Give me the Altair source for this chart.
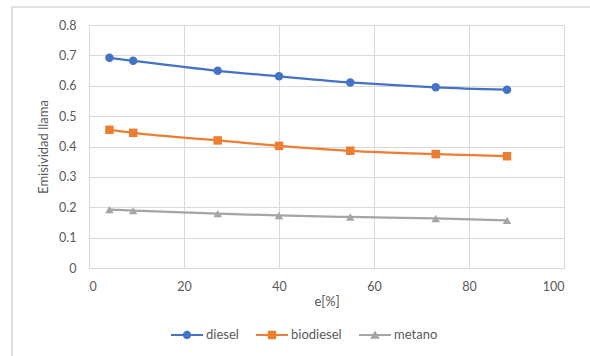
import altair as alt
import pandas as pd

# Flame emissivity versus e[%] for three fuels
e_pct = [4.3, 9.3, 27.1, 40.0, 55.0, 73.0, 88.0]
diesel = [0.692, 0.682, 0.649, 0.631, 0.611, 0.595, 0.587]
biodiesel = [0.455, 0.445, 0.420, 0.402, 0.386, 0.375, 0.368]
metano = [0.192, 0.189, 0.179, 0.173, 0.168, 0.163, 0.157]

series_names = ["diesel", "biodiesel", "metano"]
series_colors = ["#4472C4", "#ED7D31", "#A5A5A5"]
marker_shapes = ["circle", "square", "triangle-up"]

rows = []
for name, vals in zip(series_names, [diesel, biodiesel, metano]):
    for x, y in zip(e_pct, vals):
        rows.append({"e": x, "emis": y, "serie": name})
df = pd.DataFrame(rows)

FONT = "Lato"
GREY = "#595959"
FRAME = "#D9D9D9"

# Legend symbols: a short line segment with the series marker on top
line_seg = "M-1,-0.07H1V0.07H-1Z "
legend_shapes = [
    line_seg + "M0.26,0A0.26,0.26 0 1,1 -0.26,0A0.26,0.26 0 1,1 0.26,0Z",
    line_seg + "M-0.26,-0.26H0.26V0.26H-0.26Z",
    line_seg + "M0,-0.28L0.3,0.24L-0.3,0.24Z",
]

x_enc = alt.X(
    "e:Q",
    title="e[%]",
    scale=alt.Scale(domain=[0, 100], nice=False),
    axis=alt.Axis(values=[0, 20, 40, 60, 80, 100], labelPadding=12, titlePadding=3),
)
y_enc = alt.Y(
    "emis:Q",
    title="Emisividad llama",
    scale=alt.Scale(domain=[0, 0.8], nice=False),
    axis=alt.Axis(values=[0, 0.1, 0.2, 0.3, 0.4, 0.5, 0.6, 0.7, 0.8], format="~g",
                  labelPadding=13, titlePadding=8),
)


def color_enc(legend):
    return alt.Color(
        "serie:N",
        sort=series_names,
        scale=alt.Scale(domain=series_names, range=series_colors),
        legend=legend,
    )


lines = alt.Chart(df).mark_line(interpolate="monotone", strokeWidth=2.25).encode(
    x=x_enc, y=y_enc, color=color_enc(None),
)

points = alt.Chart(df).mark_point(filled=True, size=72, opacity=1).encode(
    x=x_enc,
    y=y_enc,
    color=color_enc(None),
    shape=alt.Shape("serie:N", sort=series_names,
                    scale=alt.Scale(domain=series_names, range=marker_shapes),
                    legend=None),
)

legend_spec = alt.Legend(
    title=None,
    orient="none",
    legendX=82,
    legendY=294,
    direction="horizontal",
    symbolSize=1024,
    symbolStrokeWidth=0,
    symbolOpacity=1,
    labelOffset=3,
    columnPadding=17,
)

# invisible layer that only carries the legend (line + marker symbols)
legend_layer = alt.Chart(df).mark_point(filled=True, opacity=0).encode(
    x=x_enc,
    y=y_enc,
    color=color_enc(legend_spec),
    shape=alt.Shape("serie:N", sort=series_names,
                    scale=alt.Scale(domain=series_names, range=legend_shapes),
                    legend=legend_spec),
)

# light chart-area frame (top and left edges)
frame_src = alt.Chart(pd.DataFrame({"k": [0]}))
frame_top = frame_src.mark_rule(color=FRAME, strokeWidth=1.5).encode(
    x=alt.value(-77), x2=alt.value(501), y=alt.value(-18)
)
frame_left = frame_src.mark_rule(color=FRAME, strokeWidth=1.5).encode(
    x=alt.value(-77), y=alt.value(-18), y2=alt.value(331)
)

chart = (
    alt.layer(frame_top, frame_left, lines, points, legend_layer)
    .resolve_scale(color="independent", shape="independent")
    .resolve_legend(color="independent", shape="independent")
    .properties(
        width=475,
        height=243,
        autosize=alt.AutoSizeParams(type="none"),
        padding={"left": 89, "top": 25, "right": 26, "bottom": 88},
        background="white",
    )
    .configure_view(stroke="#D9D9D9", strokeWidth=1)
    .configure_axis(
        grid=True,
        gridColor="#D9D9D9",
        gridWidth=1,
        domain=False,
        ticks=False,
        labelFont=FONT,
        labelFontSize=12.5,
        labelColor=GREY,
        titleFont=FONT,
        titleFontSize=13,
        titleFontWeight="normal",
        titleColor=GREY,
    )
    .configure_legend(labelFont=FONT, labelFontSize=13, labelColor=GREY)
)

chart.save("out.html", embed_options={"renderer": "svg", "actions": False})
